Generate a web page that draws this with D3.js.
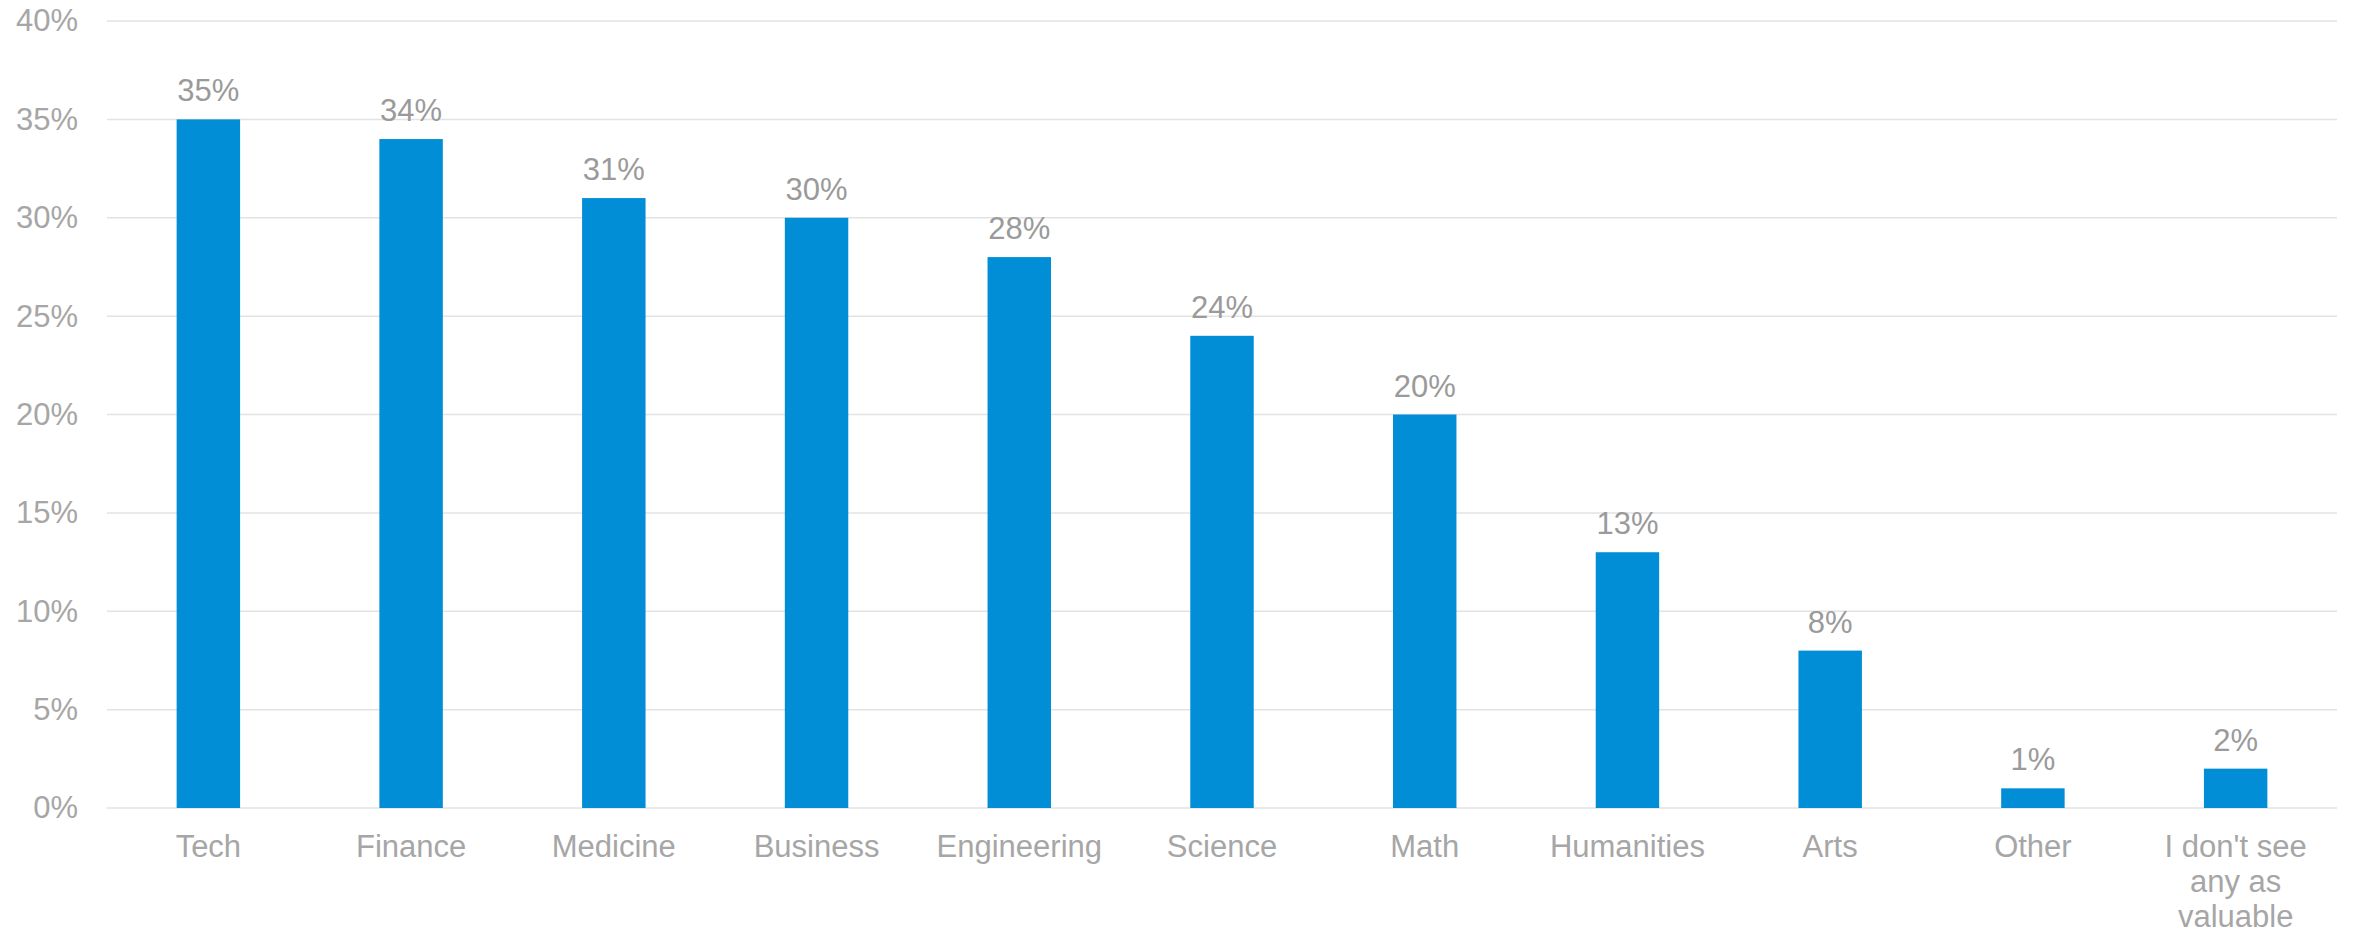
<!DOCTYPE html>
<html>
<head>
<meta charset="utf-8">
<script src="https://cdn.jsdelivr.net/npm/d3@7"></script>
<style>
  body { margin: 0; background: #fff; }
  svg { display: block; font-family: Arial, "Liberation Sans", sans-serif; }
</style>
</head>
<body>
<div id="chart"></div>
<script>
// Chart data
const categories = ["Tech", "Finance", "Medicine", "Business", "Engineering", "Science",
                    "Math", "Humanities", "Arts", "Other", "I don't see any as valuable"];
const values = [35, 34, 31, 30, 28, 24, 20, 13, 8, 1, 2];
const yTicks = [0, 5, 10, 15, 20, 25, 30, 35, 40];

const width = 2354;
const height = 934;
const margin = { top: 21, right: 17, bottom: 126, left: 107 };
const innerW = width - margin.left - margin.right;
const innerH = height - margin.top - margin.bottom;

const svg = d3.select("#chart")
    .append("svg")
    .attr("width", width)
    .attr("height", height);

const g = svg.append("g")
    .attr("transform", `translate(${margin.left},${margin.top})`);

// Scales
const x = d3.scaleBand()
    .domain(categories)
    .range([0, innerW])
    .paddingInner(0.687)
    .paddingOuter(0.3435);

const y = d3.scaleLinear()
    .domain([0, 40])
    .range([innerH, 0]);

// Gridlines
g.append("g")
    .selectAll("line")
    .data(yTicks)
    .join("line")
    .attr("x1", 0)
    .attr("x2", innerW)
    .attr("y1", d => y(d))
    .attr("y2", d => y(d))
    .attr("stroke", "#e3e3e3")
    .attr("stroke-width", 1.5);

// Y axis labels
const yAxis = g.append("g")
    .call(d3.axisLeft(y).tickValues(yTicks).tickFormat(d => d + "%").tickSize(0).tickPadding(29));
yAxis.select(".domain").remove();
yAxis.selectAll("text")
    .attr("fill", "#a6a6a6")
    .style("font-size", "31px");

// Bars
g.append("g")
    .selectAll("rect")
    .data(values)
    .join("rect")
    .attr("x", (d, i) => x(categories[i]))
    .attr("y", d => y(d))
    .attr("width", x.bandwidth())
    .attr("height", d => innerH - y(d))
    .attr("fill", "#028ed6");

// Value labels
g.append("g")
    .selectAll("text")
    .data(values)
    .join("text")
    .attr("x", (d, i) => x(categories[i]) + x.bandwidth() / 2)
    .attr("y", d => y(d) - 18)
    .attr("text-anchor", "middle")
    .attr("fill", "#9a9a9a")
    .style("font-size", "31px")
    .text(d => d + "%");

// X axis labels (wrapped)
const xAxis = g.append("g")
    .attr("transform", `translate(0,${innerH})`)
    .call(d3.axisBottom(x).tickSize(0).tickPadding(0));
xAxis.select(".domain").remove();
xAxis.selectAll("text")
    .attr("fill", "#a6a6a6")
    .attr("y", 49)
    .attr("dy", 0)
    .style("font-size", "31px")
    .call(wrap, 180);

// Wrap long category names onto several lines
function wrap(texts, maxWidth) {
    texts.each(function () {
        const text = d3.select(this);
        const words = text.text().split(/\s+/);
        const yPos = text.attr("y");
        text.text(null);
        let line = [];
        let lineNo = 0;
        let tspan = text.append("tspan").attr("x", 0).attr("y", yPos);
        words.forEach(word => {
            line.push(word);
            tspan.text(line.join(" "));
            if (tspan.node().getComputedTextLength() > maxWidth && line.length > 1) {
                line.pop();
                tspan.text(line.join(" "));
                line = [word];
                lineNo++;
                tspan = text.append("tspan")
                    .attr("x", 0)
                    .attr("y", +yPos + lineNo * 35)
                    .text(word);
            }
        });
    });
}
</script>
</body>
</html>
